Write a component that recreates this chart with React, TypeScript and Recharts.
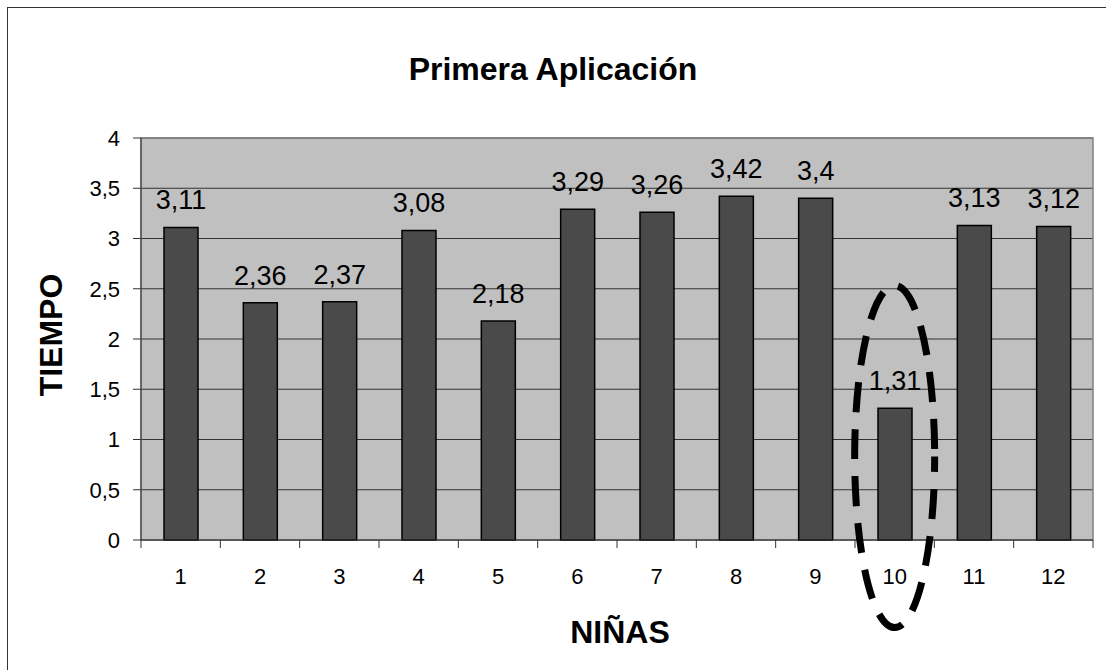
import { BarChart, Bar, XAxis, YAxis, CartesianGrid, LabelList, ReferenceArea, ReferenceDot } from "recharts";

// datos del gráfico
const ninas = [1, 2, 3, 4, 5, 6, 7, 8, 9, 10, 11, 12];
const tiempos = [3.11, 2.36, 2.37, 3.08, 2.18, 3.29, 3.26, 3.42, 3.4, 1.31, 3.13, 3.12];
const ticksTiempo = [0, 0.5, 1, 1.5, 2, 2.5, 3, 3.5, 4];
const ninaDestacada = 10;
const centroDestacado = 0.83;

const data = ninas.map((nina, i) => ({ nina, tiempo: tiempos[i] }));

const fuente = "'Liberation Sans', Arial, sans-serif";
const coma = (v: number | string) => String(v).replace(".", ",");

const TAM_TICK = 8;
const MARGEN_TICK = 20;

const TickNina = (props: any) => {
	const { x, y, payload, index } = props;
	const mitad = payload.offset || 0;
	const ejeY = y - TAM_TICK - MARGEN_TICK;
	return (
		<g>
			{index === 0 && (
				<line x1={x - mitad} x2={x - mitad} y1={ejeY} y2={ejeY + TAM_TICK} stroke="#333" />
			)}
			<line x1={x + mitad} x2={x + mitad} y1={ejeY} y2={ejeY + TAM_TICK} stroke="#333" />
			<text x={x} y={y} dy="0.71em" textAnchor="middle" fontSize={22} fontFamily={fuente} fill="#000">
				{payload.value}
			</text>
		</g>
	);
};

const TituloY = ({ viewBox }: any) => {
	const cx = viewBox.x + 21;
	const cy = viewBox.y + viewBox.height / 2 - 4;
	return (
		<text
			x={cx}
			y={cy}
			transform={`rotate(-90 ${cx} ${cy})`}
			textAnchor="middle"
			fontSize={32}
			fontWeight="bold"
			fontFamily={fuente}
			fill="#000"
		>
			TIEMPO
		</text>
	);
};

const TituloX = ({ viewBox }: any) => (
	<text
		x={viewBox.x + viewBox.width / 2 + 3}
		y={viewBox.y + 103}
		textAnchor="middle"
		fontSize={32}
		fontWeight="bold"
		fontFamily={fuente}
		fill="#000"
	>
		NIÑAS
	</text>
);

const Elipse = (props: any) => (
	<ellipse
		cx={props.cx}
		cy={props.cy}
		rx={40}
		ry={171}
		fill="none"
		stroke="#000"
		strokeWidth={7}
		strokeDasharray="30 17"
		strokeDashoffset={14.5}
	/>
);

export default function App() {
	return (
		<div style={{ position: "absolute", left: 0, top: 0, width: 1106, height: 670, background: "#fff" }}>
			<div
				style={{
					position: "absolute",
					left: 7,
					top: 7,
					width: 1120,
					height: 680,
					borderLeft: "1.5px solid #333",
					borderTop: "1.5px solid #333",
				}}
			/>
			<div
				style={{
					position: "absolute",
					left: 0,
					width: 1106,
					top: 53,
					textAlign: "center",
					fontFamily: fuente,
					fontWeight: "bold",
					fontSize: 32,
					lineHeight: "32px",
				}}
			>
				Primera Aplicación
			</div>
			<BarChart
				width={1106}
				height={670}
				data={data}
				margin={{ top: 138, right: 13, left: 41, bottom: 90 }}
				style={{ position: "absolute", left: 0, top: 0 }}
			>
				<CartesianGrid vertical={false} fill="#C0C0C0" stroke="#333" strokeOpacity={1} />
				<ReferenceArea x1={1} x2={12} y1={0} y2={4} fill="none" stroke="#808080" strokeWidth={1.5} />
				<XAxis
					dataKey="nina"
					interval={0}
					height={40}
					tickSize={TAM_TICK}
					tickMargin={MARGEN_TICK}
					tickLine={false}
					axisLine={{ stroke: "#333" }}
					tick={<TickNina />}
					label={{ content: <TituloX /> }}
				/>
				<YAxis
					width={100}
					domain={[0, 4]}
					ticks={ticksTiempo}
					interval={0}
					tickSize={8}
					tickMargin={13}
					tickFormatter={coma}
					tick={{ fontSize: 22, fontFamily: fuente, fill: "#000" }}
					tickLine={{ stroke: "#333" }}
					axisLine={{ stroke: "#333" }}
					label={{ content: <TituloY /> }}
				/>
				<Bar dataKey="tiempo" fill="#4a4a4a" stroke="#000" strokeWidth={1.5} barSize={34} isAnimationActive={false}>
					<LabelList
						dataKey="tiempo"
						position="top"
						offset={18}
						formatter={coma}
						fontSize={27}
						fontFamily={fuente}
						fill="#000"
					/>
				</Bar>
				<ReferenceDot x={ninaDestacada} y={centroDestacado} shape={<Elipse />} />
			</BarChart>
		</div>
	);
}
